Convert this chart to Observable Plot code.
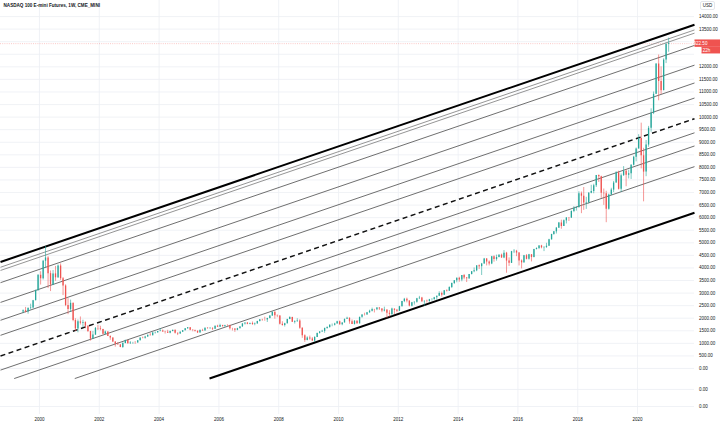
<!DOCTYPE html>
<html><head><meta charset="utf-8">
<script src="https://cdn.jsdelivr.net/npm/d3@7"></script>
<script src="https://cdn.jsdelivr.net/npm/@observablehq/plot@0.6"></script>
<style>html,body{margin:0;padding:0;background:#fff;}#chart{width:720px;height:425px;overflow:hidden;}</style>
</head><body><div id="chart"></div>
<script>
const title = "NASDAQ 100 E-mini Futures, 1W, CME_MINI";
const currency = "USD";
const firstMonth = [1999, 6];
const firstOpen = 2250;
const monthClose = [
 2296,2245,2387,2407,2697,3101,3708,
 3570,4267,4397,3774,3324,3763,3609,4078,3571,3283,2507,2342,
 2593,1908,1574,1855,1800,1830,1681,1469,1169,1329,1596,1577,
 1551,1359,1452,1277,1209,1051,962,942,833,990,1116,984,
 1010,1019,1018,1106,1209,1201,1257,1320,1303,1417,1427,1468,
 1494,1454,1438,1400,1470,1517,1400,1370,1442,1501,1585,1621,
 1519,1509,1483,1414,1514,1493,1605,1592,1601,1565,1682,1645,
 1709,1674,1703,1700,1579,1575,1518,1585,1654,1769,1806,1757,
 1789,1746,1772,1870,1935,1934,1931,1993,2092,2239,2094,2085,
 1760,1706,1781,1950,2029,1837,1874,1889,1605,1299,1113,1212,
 1176,1090,1237,1395,1453,1477,1596,1632,1719,1721,1774,1860,
 1741,1813,1957,2000,1855,1754,1883,1776,2035,2131,2129,2218,
 2280,2349,2339,2409,2371,2284,2325,2196,2151,2363,2314,2278,
 2459,2662,2755,2685,2480,2616,2632,2776,2800,2654,2673,2661,
 2737,2738,2819,2877,2987,2910,3094,3074,3219,3378,3487,3592,
 3521,3698,3596,3570,3737,3850,3884,4083,4050,4158,4357,4236,
 4152,4448,4334,4415,4508,4396,4588,4275,4182,4648,4664,4593,
 4279,4202,4484,4342,4524,4418,4730,4772,4875,4801,4810,4864,
 5118,5330,5436,5584,5788,5647,5873,5989,5980,6248,6367,6396,
 6949,6855,6582,6606,6967,7040,7272,7677,7628,6968,6949,6330,
 6906,7097,7378,7781,7127,7672,7848,7692,7750,8084,8404,8733,
 9151,8462,7813,8889,9555,10157,10906,12111,11418,11052,12268,12888,
 12922.5];
const monthHigh = [
 2330,2430,2420,2560,2710,3120,3730,
 3850,4300,4850,4450,3880,3900,4060,4120,4160,3620,3330,2780,
 2720,2600,1980,1930,2050,1920,1860,1700,1480,1470,1630,1720,
 1680,1560,1490,1460,1300,1220,1060,1030,945,1030,1130,1120,
 1070,1040,1070,1110,1210,1250,1280,1330,1400,1430,1450,1470,
 1590,1530,1480,1520,1490,1520,1530,1410,1460,1510,1590,1630,
 1630,1540,1530,1490,1540,1560,1615,1620,1620,1610,1690,1720,
 1760,1720,1720,1740,1720,1600,1580,1600,1670,1790,1810,1830,
 1810,1850,1810,1880,1940,1960,2040,2000,2100,2240,2250,2130,
 2100,1860,1800,1960,2060,2040,1900,1980,1940,1620,1340,1260,
 1290,1230,1260,1410,1470,1520,1600,1660,1740,1770,1800,1880,
 1890,1820,1960,2040,2010,1930,1900,1900,2040,2140,2200,2230,
 2320,2400,2350,2420,2410,2380,2440,2330,2300,2400,2370,2350,
 2470,2670,2790,2800,2690,2630,2650,2790,2870,2830,2690,2720,
 2750,2780,2830,2880,3050,3040,3100,3130,3250,3400,3500,3600,
 3630,3700,3740,3620,3740,3860,4000,4090,4120,4180,4380,4370,
 4280,4460,4480,4510,4530,4550,4690,4620,4400,4660,4730,4700,
 4610,4320,4500,4530,4540,4530,4740,4800,4890,4900,4850,4980,
 5140,5340,5450,5610,5810,5900,5910,6000,6000,6270,6440,6430,
 7030,7020,7200,6810,7000,7290,7330,7680,7700,7650,7140,7050,
 6940,7170,7440,7830,7850,7740,8030,7900,7890,8110,8440,8770,
 9300,9760,8760,9070,9630,10330,11000,12120,12470,12000,12320,12950,
 13140];
const monthLow = [
 2180,2210,2160,2330,2370,2690,3060,
 3320,3520,3980,3180,3060,3300,3470,3580,3500,2900,2460,2140,
 2230,1860,1470,1420,1730,1620,1580,1430,1090,1160,1320,1510,
 1500,1330,1350,1270,1120,1030,850,920,830,800,980,970,
 960,960,960,1010,1100,1180,1170,1240,1300,1300,1370,1400,
 1460,1440,1370,1400,1380,1460,1370,1310,1360,1430,1500,1560,
 1500,1460,1450,1390,1410,1480,1490,1560,1550,1510,1560,1630,
 1640,1640,1640,1680,1530,1490,1440,1500,1580,1640,1730,1740,
 1740,1720,1700,1770,1850,1880,1880,1830,1970,2070,1960,2020,
 1730,1690,1650,1770,1940,1830,1770,1830,1560,1200,1040,1100,
 1120,1080,1040,1230,1370,1440,1400,1560,1600,1660,1690,1770,
 1720,1700,1810,1950,1760,1750,1730,1760,1770,2000,2090,2120,
 2190,2250,2210,2300,2310,2220,2250,1980,2040,2080,2150,2220,
 2270,2450,2620,2610,2450,2450,2520,2600,2740,2630,2480,2600,
 2640,2680,2730,2710,2870,2840,2910,3040,3070,3180,3340,3410,
 3430,3450,3530,3420,3540,3720,3810,3850,3940,3700,4150,4080,
 4080,4130,4230,4270,4400,4380,4370,3790,4060,4180,4570,4450,
 4080,3960,4180,4320,4310,4240,4400,4720,4730,4760,4650,4780,
 4860,5110,5300,5350,5580,5540,5650,5750,5850,5980,6200,6260,
 6390,6160,6290,6330,6540,6950,6950,7200,7400,6770,6490,5800,
 6300,6880,7000,7370,7100,7000,7640,7230,7540,7520,8060,8220,
 8730,7940,6630,7630,8800,9400,10100,10900,10650,10900,11050,12130,
 12580];
const lastPrice = 12922.5;
const lastPriceLabel = "12922.50";
const countdownLabel = "3d 22h";

// Channel lines drawn on the chart (start point and end point in date / price)
const channelKind = ["edge","outer","outer","inner","inner","inner","inner","median","inner","inner","inner","edge"];
const channelStart = ["1998-09-12","1998-09-12","1998-09-12","1998-09-12","1998-09-12","1998-09-12","1998-09-12","1998-09-12","1998-09-12","1999-02-26","2001-03-07","2005-09-08"];
const channelStartPrice = [4237,4028,3900,3414,2629,1918,1320,498,-64,-400,-400,-400];
const channelEnd = "2021-11-27";
const channelEndPrice = [13676,13467,13340,12853,12068,11358,10759,9937,9376,8852,8030,6197];

const yTicks = [-1512,-835,0,500,1000,1500,2000,2500,3000,3500,4000,4500,5000,5500,6000,6500,7000,7500,8000,8500,9000,9500,10000,10500,11000,11500,12000,12500,13000,13500,14000];
const yTickLabels = ["0.00","0.00","0.00","500.00","1000.00","1500.00","2000.00","2500.00","3000.00","3500.00","4000.00","4500.00","5000.00","5500.00","6000.00","6500.00","7000.00","7500.00","8000.00","8500.00","9000.00","9500.00","10000.00","10500.00","11000.00","11500.00","12000.00","12500.00","13000.00","13500.00","14000.00"];
const xTickYears = [2000,2002,2004,2006,2008,2010,2012,2014,2016,2018,2020];
const xTickLabels = ["2000","2002","2004","2006","2008","2010","2012","2014","2016","2018","2020"];
const xDomain = ["1998-09-12","2021-11-27"];
const yDomain = [-1830, 14639];

// ---- build tables
const candles = monthClose.map((c, i) => ({
  date: new Date(Date.UTC(firstMonth[0], firstMonth[1] - 1 + i, 15)),
  open: i === 0 ? firstOpen : monthClose[i - 1],
  close: c, high: monthHigh[i], low: monthLow[i]
}));
const up = candles.filter(d => d.close >= d.open);
const down = candles.filter(d => d.close < d.open);
const channels = channelKind.map((k, i) => ({
  kind: k, x1: new Date(channelStart[i]), y1: channelStartPrice[i],
  x2: new Date(channelEnd), y2: channelEndPrice[i]
}));
const xTicks = xTickYears.map(y => new Date(Date.UTC(y, 0, 1)));
const xLab = new Map(xTicks.map((d, i) => [+d, xTickLabels[i]]));
const yLab = new Map(yTicks.map((d, i) => [d, yTickLabels[i]]));
// axis labels that sit under the last-price / countdown badges are hidden there
const yAxisTicks = yTicks.filter(d => Math.abs(d - lastPrice) > 300 && !(d < lastPrice && lastPrice - d < 600));
const UP = "#26a69a", DOWN = "#ef5350";
const font = "'Liberation Sans', Arial, sans-serif";

const chart = Plot.plot({
  width: 720, height: 425,
  marginLeft: 0, marginRight: 26, marginTop: 0, marginBottom: 11,
  style: {fontFamily: font, fontSize: "4.5px", background: "#fff", color: "#131722"},
  x: {type: "utc", domain: xDomain.map(d => new Date(d)), axis: null},
  y: {domain: yDomain, axis: null},
  marks: [
    Plot.gridX(xTicks, {stroke: "#eceff4", strokeOpacity: 1, strokeWidth: 0.8}),
    Plot.gridY(yTicks, {stroke: "#eceff4", strokeOpacity: 1, strokeWidth: 0.8}),
    Plot.ruleY([lastPrice], {stroke: DOWN, strokeOpacity: 0.45, strokeWidth: 0.7, strokeDasharray: "1,1.2"}),
    Plot.link(channels.filter(d => d.kind === "outer"), {x1: "x1", y1: "y1", x2: "x2", y2: "y2", stroke: "#7a7a7a", strokeWidth: 0.8}),
    Plot.link(channels.filter(d => d.kind === "inner"), {x1: "x1", y1: "y1", x2: "x2", y2: "y2", stroke: "#555", strokeWidth: 0.85}),
    Plot.link(channels.filter(d => d.kind === "median"), {x1: "x1", y1: "y1", x2: "x2", y2: "y2", stroke: "#111", strokeWidth: 1.5, strokeDasharray: "5,3.5"}),
    Plot.link(channels.filter(d => d.kind === "edge"), {x1: "x1", y1: "y1", x2: "x2", y2: "y2", stroke: "#000", strokeWidth: 2}),
    Plot.ruleX(up, {x: "date", y1: "low", y2: "high", stroke: UP, strokeWidth: 0.6}),
    Plot.ruleX(down, {x: "date", y1: "low", y2: "high", stroke: DOWN, strokeWidth: 0.6}),
    Plot.ruleX(up, {x: "date", y1: "open", y2: "close", stroke: UP, strokeWidth: 1.3}),
    Plot.ruleX(down, {x: "date", y1: "open", y2: "close", stroke: DOWN, strokeWidth: 1.3}),
    Plot.axisY(yAxisTicks, {anchor: "right", tickSize: 0, tickPadding: 4.5, tickFormat: d => yLab.get(d), fontSize: 4.5, fill: "#131722", line: true, stroke: "#d6d9e0"}),
    Plot.axisX(xTicks, {anchor: "bottom", tickSize: 0, tickPadding: 3.5, tickFormat: d => xLab.get(+d), fontSize: 4.5, fill: "#131722", line: true, stroke: "#d6d9e0"}),
    Plot.text([title], {frameAnchor: "top-left", dx: 3, dy: 3.5, lineAnchor: "top", textAnchor: "start", fontSize: 4.6, fontWeight: 600, fill: "#131722"})
  ]
});
document.getElementById("chart").appendChild(chart);

// price label, countdown and currency badge on the price axis
const svg = d3.select(chart);
const yp = chart.scale("y").apply(lastPrice);
const g = svg.append("g").attr("font-family", font).attr("font-size", 4.5);
g.append("rect").attr("x", 694.5).attr("y", yp - 3.7).attr("width", 25.5).attr("height", 7.4).attr("fill", DOWN);
g.append("text").attr("x", 698).attr("y", yp).attr("dy", "0.35em").attr("fill", "#fff").text(lastPriceLabel);
g.append("rect").attr("x", 701.5).attr("y", yp + 3.7).attr("width", 18.5).attr("height", 6.6).attr("fill", DOWN);
g.append("text").attr("x", 703.5).attr("y", yp + 7).attr("dy", "0.35em").attr("fill", "#fff").text(countdownLabel);
g.append("rect").attr("x", 700.5).attr("y", 1.5).attr("width", 14).attr("height", 8).attr("rx", 1.5).attr("fill", "#fff").attr("stroke", "#c9ccd4").attr("stroke-width", 0.5);
g.append("text").attr("x", 707.5).attr("y", 5.5).attr("dy", "0.35em").attr("text-anchor", "middle").attr("fill", "#131722").text(currency);
</script>
</body></html>
